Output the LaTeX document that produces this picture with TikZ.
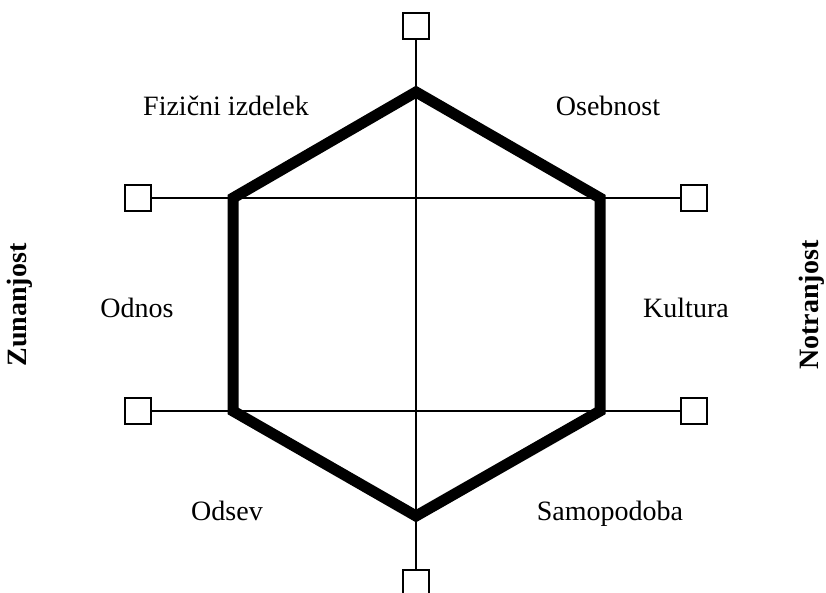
\documentclass[tikz,border=0pt]{standalone}
\usepackage{fontspec}
\setmainfont{Liberation Serif}
\begin{document}
\begin{tikzpicture}[x=1pt,y=-1pt,
  sq/.style={draw,line width=2.8pt,fill=white,minimum size=26pt,inner sep=0pt},
  thin/.style={line width=2pt},
  hex/.style={line width=11pt,line join=miter},
  lbl/.style={font=\fontsize{28}{32}\selectfont,inner sep=0pt,anchor=base},
  side/.style={font=\fontsize{28}{32}\selectfont\bfseries,inner sep=0pt,rotate=90}]
\useasboundingbox (0,0) rectangle (826,593);
\begin{scope}
\clip (0,0) rectangle (826,593);
% boxes
\node[sq] (bt) at (416,26) {};
\node[sq] (bb) at (416,583) {};
\node[sq] (bl1) at (138,198) {};
\node[sq] (br1) at (694,198) {};
\node[sq] (bl2) at (138,411) {};
\node[sq] (br2) at (694,411) {};
% hexagon vertices
\coordinate (t) at (416,92);
\coordinate (ul) at (233,198);
\coordinate (ur) at (600,198);
\coordinate (ll) at (233,411);
\coordinate (lr) at (600,411);
\coordinate (b) at (416,516);
% thin lines
\draw[thin] (bt) -- (bb);
\draw[thin] (bl1) -- (br1);
\draw[thin] (bl2) -- (br2);
% hexagon
\draw[hex] (t) -- (ur) -- (lr) -- (b) -- (ll) -- (ul) -- cycle;
\end{scope}
% labels
\node[lbl] (l1) at (226,116) {Fizični izdelek};
\node[lbl] (l2) at (608,116) {Osebnost};
\node[lbl] (l3) at (137,317) {Odnos};
\node[lbl] (l4) at (686,317) {Kultura};
\node[lbl] (l5) at (227,520) {Odsev};
\node[lbl] (l6) at (610,520) {Samopodoba};
\node[side] (z) at (20,305) {Zunanjost};
\node[side] (n) at (812,305) {Notranjost};
\end{tikzpicture}
\end{document}
